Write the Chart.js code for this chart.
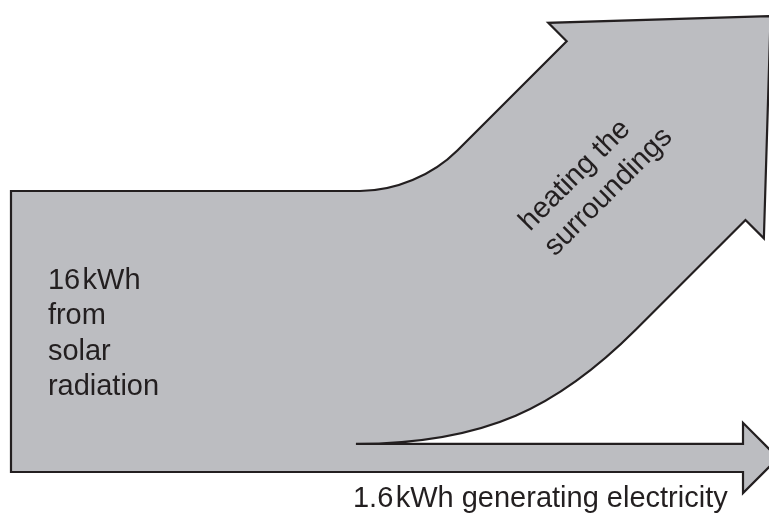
<!DOCTYPE html>
<html>
<head>
<meta charset="utf-8">
<title>Solar energy flow</title>
<script src="https://cdn.jsdelivr.net/npm/chart.js@4.4.1/dist/chart.umd.min.js"></script>
<style>
  html, body { margin: 0; padding: 0; background: #fff; }
  #wrap { width: 769px; height: 516px; }
</style>
</head>
<body>
<div id="wrap"><canvas id="flowChart"></canvas></div>
<script>
// energy flows, kWh
const flowNames = ['solar radiation', 'heating the surroundings', 'generating electricity'];
const flowValues = [16, 14.4, 1.6];
const unit = 'kWh';

// label texts (hair space between number and unit, like the print)
const inputLabel = [flowValues[0] + '\u200A' + unit, 'from', 'solar', 'radiation'];
const heatLabel = ['heating the', 'surroundings'];
const elecLabel = flowValues[2] + '\u200A' + unit + ' generating electricity';

const FILL = '#bcbdc1';
const INK = '#231f20';
const FONT = '29px "Liberation Sans", Arial, Helvetica, sans-serif';

// layout of the arrows, measured in the same units as the band widths (kWh)
const shape = {
  elecStart: 19.64,   // where the electricity branch splits off
  upperStart: 19.87,  // where the upper edge starts to bend
  elecHead: 41.68,    // base of electricity arrow head
  elecBarb: 1.2,
  heatCentre: { u: 36.73, v: 19.44 }, // base centre of heating arrow head
  angle: 45,
  heatBarb: 1.48,
  heatTip: 9.22,
  diagLen: 8.8,
  upperHandle: [2.0, 2.0],
  lowerHandle: [7.4, 6.26]
};

const sankeyArrows = {
  id: 'sankeyArrows',
  afterDraw(chart) {
    const ctx = chart.ctx;
    const sx = chart.scales.x, sy = chart.scales.y;
    const P = (u, v) => [sx.getPixelForValue(u), sy.getPixelForValue(v)];

    const total = flowValues[0], heat = flowValues[1], elec = flowValues[2];
    const th = shape.angle * Math.PI / 180;
    const dir = [Math.cos(th), Math.sin(th)];
    const nUp = [-Math.sin(th), Math.cos(th)];
    const add = (p, d, s) => [p[0] + d[0] * s, p[1] + d[1] * s];

    const C = [shape.heatCentre.u, shape.heatCentre.v];
    const h = heat / 2;
    const Nu = add(C, nUp, h), Nl = add(C, nUp, -h);
    const Bu = add(C, nUp, h + shape.heatBarb), Bl = add(C, nUp, -(h + shape.heatBarb));
    const tip = add(C, dir, shape.heatTip);
    const P3u = add(Nu, dir, -shape.diagLen), P3l = add(Nl, dir, -shape.diagLen);

    const u0 = [shape.upperStart, total];
    const u1 = [shape.upperStart + shape.upperHandle[0], total];
    const u2 = add(P3u, dir, -shape.upperHandle[1]);
    const l0 = [shape.elecStart, elec];
    const l1 = [shape.elecStart + shape.lowerHandle[0], elec];
    const l2 = add(P3l, dir, -shape.lowerHandle[1]);

    const eTip = [shape.elecHead + elec / 2 + shape.elecBarb, elec / 2];

    const pts = (list) => list.map(p => P(p[0], p[1]));
    ctx.save();
    ctx.beginPath();
    let q = P(0, total); ctx.moveTo(q[0], q[1]);
    q = P(u0[0], u0[1]); ctx.lineTo(q[0], q[1]);
    let c = pts([u1, u2, P3u]); ctx.bezierCurveTo(c[0][0], c[0][1], c[1][0], c[1][1], c[2][0], c[2][1]);
    pts([Nu, Bu, tip, Bl, Nl, P3l]).forEach(p => ctx.lineTo(p[0], p[1]));
    c = pts([l2, l1, l0]); ctx.bezierCurveTo(c[0][0], c[0][1], c[1][0], c[1][1], c[2][0], c[2][1]);
    pts([[shape.elecHead, elec], [shape.elecHead, elec + shape.elecBarb], eTip,
         [shape.elecHead, -shape.elecBarb], [shape.elecHead, 0], [0, 0]])
      .forEach(p => ctx.lineTo(p[0], p[1]));
    ctx.closePath();
    ctx.fillStyle = FILL;
    ctx.fill();
    ctx.lineWidth = 2.2;
    ctx.strokeStyle = INK;
    ctx.lineJoin = 'miter';
    ctx.miterLimit = 4;
    ctx.stroke();

    // labels
    ctx.fillStyle = INK;
    ctx.font = FONT;
    ctx.textAlign = 'left';
    ctx.textBaseline = 'alphabetic';
    const lineH = sy.getPixelForValue(0) - sy.getPixelForValue(2.01);

    const a = P(2.1, 10.42);
    inputLabel.forEach((t, i) => ctx.fillText(t, a[0], a[1] + i * lineH));

    const b = P(19.47, -1.99);
    ctx.fillText(elecLabel, b[0], b[1]);

    const r = P(29.55, 13.67);
    ctx.translate(r[0], r[1]);
    ctx.rotate(-th);
    heatLabel.forEach((t, i) => ctx.fillText(t, 0, i * lineH));
    ctx.restore();
  }
};

new Chart(document.getElementById('flowChart'), {
  type: 'scatter',
  data: { datasets: [{ data: [], showLine: false }] },
  options: {
    responsive: true,
    maintainAspectRatio: false,
    animation: false,
    layout: { padding: 0 },
    plugins: { legend: { display: false }, tooltip: { enabled: false } },
    scales: {
      x: { type: 'linear', display: false, min: -0.626, max: 43.16 },
      y: { type: 'linear', display: false, min: -2.505, max: 26.876 }
    }
  },
  plugins: [sankeyArrows]
});
</script>
</body>
</html>
